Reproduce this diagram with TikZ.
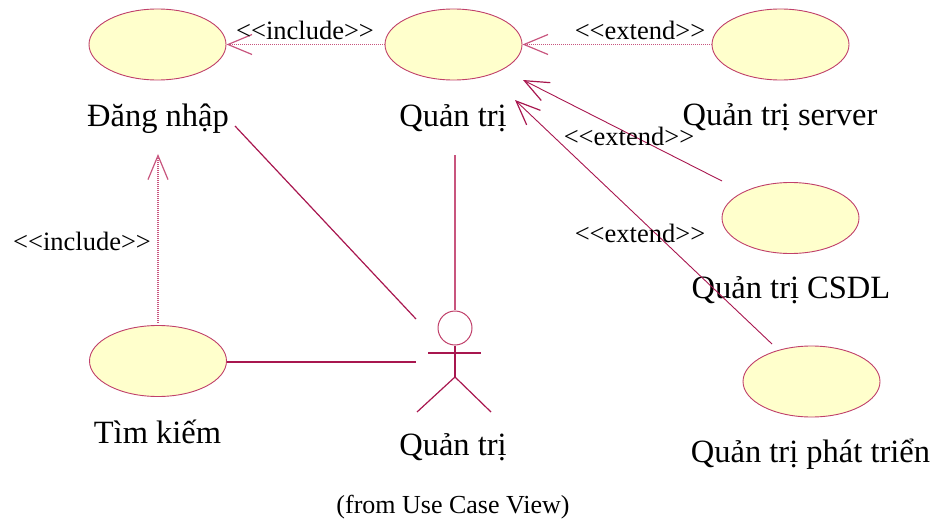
\documentclass[tikz,border=0pt]{standalone}
\usepackage{fontspec}
\setmainfont{Liberation Serif}
\usetikzlibrary{arrows.meta,shapes.geometric}

\definecolor{linecol}{HTML}{A8174F}
\definecolor{depcol}{HTML}{C8557E}
\definecolor{ucfill}{HTML}{FFFFCC}
\definecolor{ucborder}{HTML}{C0406A}

% guillemet-free stereotype brackets
\newcommand{\stlt}{<\kern0pt<}
\newcommand{\stgt}{>\kern0pt>}

\tikzset{
  usecase/.style={ellipse, draw=ucborder, fill=ucfill, line width=0.9pt,
    minimum width=137pt, minimum height=71pt, inner sep=0pt},
  uclabel/.style={anchor=base, inner sep=0pt, font=\fontsize{32.5}{36}\selectfont},
  stereo/.style={anchor=base, inner sep=0pt, font=\fontsize{26.5}{30}\selectfont},
  assoc/.style={draw=linecol, line width=1.2pt},
  dep/.style={draw=depcol, line width=1.3pt, dash pattern=on 1pt off 1pt,
    -{Straight Barb[length=24pt,width=20pt,line width=1.2pt]}},
  depsolid/.style={draw=linecol, line width=0.9pt,
    -{Straight Barb[length=24pt,width=20pt,line width=1.2pt]}},
  actorline/.style={draw=linecol, line width=1.2pt},
}

\begin{document}
\begin{tikzpicture}[x=1pt,y=-1pt]
  \useasboundingbox (0,0) rectangle (942,519);

  % use cases
  \node[usecase] (dn)   at (157.5,44.5) {};
  \node[usecase] (qt)   at (453.5,44.5) {};
  \node[usecase] (srv)  at (780.5,44.5) {};
  \node[usecase] (csdl) at (790.5,218) {};
  \node[usecase] (pt)   at (811.5,381.5) {};
  \node[usecase] (tk)   at (158,361) {};

  % use case names
  \node[uclabel] (dnlab)   at (158,126) {Đăng nhập};
  \node[uclabel] (qtlab)   at (453,126) {Quản trị};
  \node[uclabel] (srvlab)  at (780,125) {Quản trị server};
  \node[uclabel] (csdllab) at (791,298) {Quản trị CSDL};
  \node[uclabel] (ptlab)   at (810.5,462) {Quản trị phát triển};
  \node[uclabel] (tklab)   at (157.5,443) {Tìm kiếm};

  % actor
  \node[circle, draw=ucborder, line width=1pt, minimum size=34pt, inner sep=0pt]
    (head) at (455,328) {};
  \coordinate (hip) at (455,377);
  \coordinate (armL) at (428,353);
  \coordinate (armR) at (481,353);
  \coordinate (footL) at (417,412);
  \coordinate (footR) at (491,412);
  \draw[actorline] (head.south) -- (hip);
  \draw[actorline] (armL) -- (armR);
  \draw[actorline] (footL) -- (hip) -- (footR);
  \node[uclabel] (actlab) at (453,455) {Quản trị};
  \node[anchor=base, inner sep=0pt, font=\fontsize{26}{30}\selectfont]
    (from) at (453,513) {(from Use Case View)};

  % association end points near the actor
  \coordinate (aTop) at (455,155);
  \coordinate (aTopEnd) at (455,310);
  \coordinate (aDn) at (235,126);
  \coordinate (aDnEnd) at (416,319);
  \coordinate (aTkEnd) at (416,362);

  \draw[assoc, draw=depcol] (aTop) -- (aTopEnd);
  \draw[assoc] (aDn) -- (aDnEnd);
  \draw[assoc] (tk.east |- aTkEnd) -- (aTkEnd);

  % include / extend dependencies
  \draw[dep] (qt.west) -- (dn.east);
  \node[stereo] (inc1) at (305,40) {\stlt include\stgt};

  \draw[dep] (srv.west) -- (qt.east);
  \node[stereo] (ext1) at (640,40) {\stlt extend\stgt};

  \coordinate (csdlStart) at (722,181);
  \coordinate (csdlTip) at (523,80);
  \draw[depsolid] (csdlStart) -- (csdlTip);
  \node[stereo] (ext2) at (629,145) {\stlt extend\stgt};

  \coordinate (ptStart) at (772,344);
  \coordinate (ptTip) at (515,100);
  \draw[depsolid] (ptStart) -- (ptTip);
  \node[stereo] (ext3) at (640,242) {\stlt extend\stgt};

  \coordinate (tkTop) at (158,323);
  \coordinate (dnBelow) at (158,154);
  \draw[dep] (tkTop) -- (dnBelow);
  \node[stereo] (inc2) at (82,250) {\stlt include\stgt};
\end{tikzpicture}
\end{document}
